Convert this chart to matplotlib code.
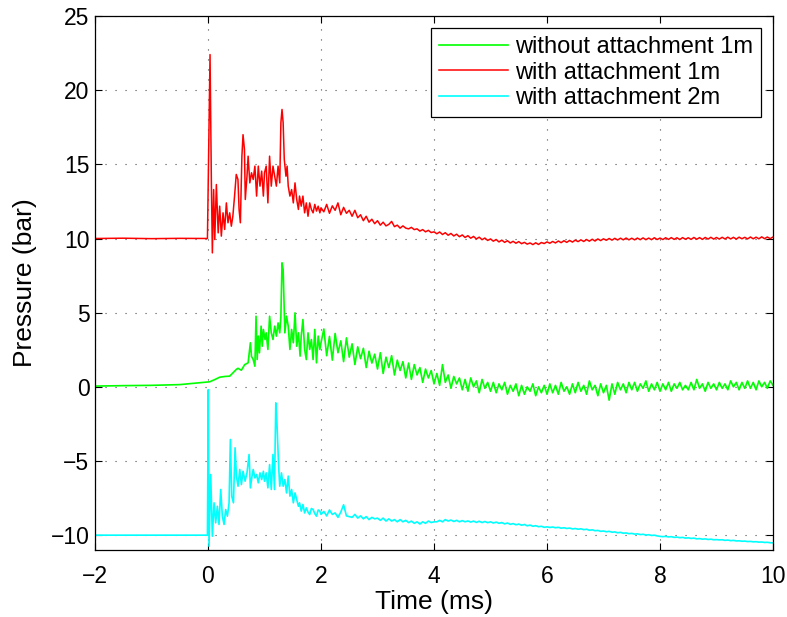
import numpy as np
import matplotlib.pyplot as plt

plt.rcParams['font.family'] = ['Liberation Sans', 'DejaVu Sans']

# samples before the trigger (same times for all three gauges)
t_pre = [-2.0, -1.5, -1.0, -0.5, -0.01]
green_pre = [0.05, 0.08, 0.10, 0.15, 0.32]
red_pre = [10.0, 10.02, 9.99, 10.01, 10.0]
cyan_pre = [-10.0, -10.0, -10.0, -10.0, -10.0]

green_head_t = [0.03, 0.12, 0.207, 0.30, 0.384, 0.44, 0.50, 0.53, 0.59, 0.65,
                0.71, 0.75, 0.77, 0.80, 0.83, 0.85, 0.87, 0.89, 0.91, 0.94,
                0.96, 0.98, 1.01, 1.03, 1.06, 1.09, 1.12, 1.15, 1.18, 1.21,
                1.24, 1.27, 1.29, 1.31, 1.33, 1.35, 1.36, 1.39, 1.42, 1.45,
                1.48, 1.51, 1.54, 1.57, 1.60, 1.63, 1.65, 1.68, 1.71, 1.74,
                1.77, 1.80, 1.83, 1.86, 1.89, 1.92, 1.95, 1.98, 2.00]
green_head = [0.34, 0.49, 0.65, 0.70, 0.72, 0.94, 1.17, 1.25, 1.12, 1.50,
              1.62, 2.97, 2.05, 1.84, 1.39, 4.76, 1.84, 3.42, 2.29, 4.09,
              2.74, 3.87, 3.19, 3.64, 2.52, 4.76, 3.64, 3.19, 4.09, 3.42,
              4.31, 3.64, 4.76, 8.36, 7.90, 5.21, 3.64, 4.76, 4.09, 2.52,
              3.87, 2.97, 4.99, 2.74, 3.64, 2.07, 3.42, 4.54, 2.52, 1.84,
              3.64, 2.52, 3.19, 1.84, 3.87, 1.62, 3.42, 2.52, 2.97]

red_head_t = [0.012, 0.036, 0.06, 0.077, 0.10, 0.12, 0.148, 0.18, 0.207, 0.236,
              0.266, 0.295, 0.325, 0.354, 0.384, 0.413, 0.44, 0.47, 0.50, 0.53,
              0.55, 0.573, 0.60, 0.62, 0.645, 0.66, 0.69, 0.71, 0.74, 0.77,
              0.80, 0.83, 0.86, 0.89, 0.92, 0.95, 0.98, 1.00, 1.03, 1.06,
              1.09, 1.12, 1.15, 1.18, 1.21, 1.24, 1.27, 1.29, 1.31, 1.33,
              1.35, 1.38, 1.40, 1.42, 1.45, 1.48, 1.51, 1.54, 1.57, 1.60,
              1.62, 1.65, 1.68, 1.71, 1.74, 1.77, 1.80, 1.83, 1.86, 1.89,
              1.92, 1.95, 1.98, 2.00]
red_head = [16.0, 22.4, 13.75, 9.03, 13.3, 9.93, 13.64, 10.38, 12.18, 10.16,
            11.73, 10.61, 12.4, 11.06, 11.73, 10.83, 11.51, 12.86, 14.32, 13.98,
            11.96, 11.06, 15.55, 17.0, 16.0, 12.63, 14.2, 15.55, 13.75, 14.43,
            13.98, 14.88, 12.86, 14.88, 13.53, 14.54, 12.86, 14.43, 14.88, 12.4,
            15.55, 13.53, 14.88, 14.2, 13.53, 14.88, 13.75, 17.8, 18.7, 17.8,
            15.33, 14.2, 14.88, 13.53, 12.86, 13.3, 12.4, 13.75, 12.63, 11.96,
            12.86, 12.18, 12.86, 11.73, 12.4, 11.5, 12.4, 11.96, 11.73, 12.3,
            11.85, 12.18, 11.73, 12.07]

cyan_head_t = [0.005, 0.018, 0.048, 0.077, 0.107, 0.136, 0.166, 0.195, 0.225, 0.254,
               0.284, 0.313, 0.343, 0.373, 0.396, 0.42, 0.45, 0.479, 0.503, 0.532,
               0.562, 0.591, 0.62, 0.656, 0.69, 0.727, 0.75, 0.78, 0.80, 0.83,
               0.86, 0.89, 0.92, 0.95, 0.98, 1.00, 1.03, 1.06, 1.09, 1.12,
               1.15, 1.176, 1.20, 1.22, 1.25, 1.27, 1.30, 1.33, 1.36, 1.39,
               1.42, 1.45, 1.48, 1.51, 1.54, 1.57, 1.60, 1.62, 1.65, 1.68,
               1.71, 1.74, 1.77, 1.80, 1.83, 1.86, 1.89, 1.92, 1.95, 1.98,
               2.00]
cyan_head = [-0.2, -10.74, -5.91, -10.07, -7.82, -9.17, -8.05, -9.28, -6.92, -8.72,
             -9.28, -8.27, -8.72, -7.82, -3.55, -7.37, -7.82, -4.11, -6.02, -6.70,
             -5.57, -6.59, -5.69, -6.36, -5.8, -4.56, -6.81, -6.0, -5.57, -6.14,
             -5.91, -6.47, -5.80, -6.25, -5.69, -6.36, -5.80, -6.81, -5.24, -6.92,
             -4.56, -6.92, -1.08, -2.43, -5.35, -6.70, -5.80, -6.70, -6.25, -7.15,
             -6.02, -7.37, -6.92, -7.82, -7.15, -7.60, -8.05, -7.82, -8.38, -7.93,
             -8.50, -8.16, -8.45, -8.61, -8.20, -8.27, -8.55, -8.72, -8.30, -8.38,
             -8.60]

# 2 to 10 ms, one value every 0.05 ms
t_tail = np.round(np.arange(2.05, 10.001, 0.05), 2)
green_tail = [3.9, 2.1, 3.4, 1.8, 3.6, 2.3, 3.1, 1.7, 3.3, 2.0,
              2.9, 1.5, 2.7, 1.9, 2.6, 1.3, 2.4, 1.6, 2.2, 1.2,
              2.3, 0.9, 2.0, 1.3, 2.1, 0.8, 1.8, 1.1, 1.7, 0.6,
              1.6, 0.5, 1.5, 0.8, 1.3, 0.3, 1.2, 0.6, 1.1, 0.2,
              0.9, 0.1, 1.5, 0.3, 0.8, -0.1, 0.7, 0.2, 0.6, -0.2,
              0.5, -0.3, 0.6, 0.0, 0.4, -0.4, 0.5, -0.1, 0.3, -0.3,
              0.3, -0.4, 0.2, -0.2, 0.3, -0.5, 0.1, -0.3, 0.2, -0.6,
              0.1, -0.5, 0.0, -0.3, 0.2, -0.6, 0.0, -0.4, 0.1, -0.5,
              0.2, -0.4, 0.1, -0.5, 0.3, -0.3, 0.0, -0.5, 0.2, -0.4,
              0.3, -0.3, 0.1, -0.5, 0.4, -0.2, 0.1, -0.6, 0.2, -0.4,
              0.1, -0.9, 0.2, -0.5, 0.3, -0.2, 0.2, -0.4, 0.3, -0.2,
              0.3, -0.3, 0.2, -0.1, 0.4, -0.3, 0.2, -0.2, 0.3, -0.3,
              0.2, -0.2, 0.3, -0.3, 0.2, -0.1, 0.3, -0.2, 0.1, -0.2,
              0.3, -0.2, 0.5, -0.1, 0.2, -0.3, 0.3, -0.1, 0.2, -0.2,
              0.3, -0.1, 0.2, -0.2, 0.4, 0.0, 0.3, -0.2, 0.3, -0.1,
              0.4, -0.1, 0.3, -0.2, 0.4, 0.0, 0.3, -0.1, 0.4, 0.1]
red_tail = [11.8, 12.3, 11.7, 12.2, 11.9, 12.4, 11.6, 12.1, 11.7, 11.9,
            11.5, 11.9, 11.4, 11.6, 11.2, 11.5, 11.1, 11.3, 11.0, 11.2,
            10.9, 11.1, 10.85, 10.95, 11.15, 10.8, 10.9, 10.7, 10.85, 10.7,
            10.65, 10.75, 10.6, 10.65, 10.5, 10.6, 10.45, 10.55, 10.4, 10.45,
            10.32, 10.44, 10.27, 10.39, 10.22, 10.34, 10.17, 10.29, 10.12, 10.24,
            10.07, 10.19, 10.02, 10.14, 9.97, 10.09, 9.92, 10.03, 9.87, 9.97,
            9.82, 9.93, 9.77, 9.89, 9.74, 9.85, 9.70, 9.81, 9.68, 9.79,
            9.65, 9.74, 9.62, 9.70, 9.59, 9.71, 9.60, 9.73, 9.66, 9.77,
            9.68, 9.80, 9.70, 9.83, 9.72, 9.85, 9.74, 9.87, 9.76, 9.89,
            9.79, 9.91, 9.80, 9.93, 9.82, 9.95, 9.83, 9.97, 9.86, 9.98,
            9.88, 10.0, 9.89, 10.01, 9.90, 10.02, 9.91, 10.03, 9.91, 10.02,
            9.91, 10.03, 9.92, 10.04, 9.92, 10.03, 9.92, 10.05, 9.93, 10.03,
            9.93, 10.05, 9.94, 10.06, 9.94, 10.05, 9.93, 10.06, 9.95, 10.05,
            9.94, 10.07, 9.95, 10.06, 9.94, 10.07, 9.96, 10.08, 9.96, 10.07,
            9.96, 10.08, 9.97, 10.09, 9.97, 10.08, 9.96, 10.09, 9.98, 10.08,
            9.97, 10.1, 9.98, 10.09, 9.98, 10.11, 9.99, 10.1, 9.99, 10.1]
cyan_tail = [-8.4, -8.7, -8.3, -8.6, -8.5, -8.8, -8.45, -7.95, -8.7, -8.75,
             -8.8, -8.6, -8.85, -8.7, -8.9, -8.75, -8.95, -8.8, -8.9, -8.85,
             -9.0, -8.85, -9.05, -8.9, -9.05, -8.95, -9.1, -8.95, -9.1, -9.0,
             -9.15, -9.05, -9.2, -9.1, -9.25, -9.1, -9.2, -9.05, -9.15, -9.1,
             -9.1, -9.0, -9.1, -8.95, -9.05, -8.98, -9.08, -9.0, -9.1, -9.02,
             -9.1, -9.04, -9.12, -9.05, -9.14, -9.06, -9.15, -9.08, -9.16, -9.1,
             -9.18, -9.12, -9.2, -9.15, -9.24, -9.18, -9.27, -9.22, -9.3, -9.25,
             -9.33, -9.28, -9.37, -9.32, -9.4, -9.36, -9.43, -9.4, -9.47, -9.44,
             -9.48, -9.45, -9.5, -9.47, -9.53, -9.5, -9.55, -9.52, -9.58, -9.55,
             -9.6, -9.57, -9.63, -9.6, -9.67, -9.64, -9.7, -9.68, -9.74, -9.72,
             -9.77, -9.74, -9.8, -9.78, -9.84, -9.81, -9.87, -9.85, -9.9, -9.88,
             -9.93, -9.91, -9.96, -9.94, -9.99, -9.97, -10.02, -10.0, -10.05, -10.08,
             -10.1, -10.08, -10.12, -10.1, -10.15, -10.13, -10.17, -10.15, -10.2, -10.18,
             -10.22, -10.2, -10.25, -10.23, -10.27, -10.25, -10.29, -10.27, -10.31, -10.3,
             -10.32, -10.31, -10.35, -10.33, -10.37, -10.35, -10.39, -10.38, -10.41, -10.4,
             -10.43, -10.42, -10.45, -10.44, -10.47, -10.46, -10.49, -10.48, -10.51, -10.52]

labels = ['without attachment 1m', 'with attachment 1m', 'with attachment 2m']

# stitch the pieces together
green_t = np.concatenate([t_pre, green_head_t, t_tail])
green_p = np.concatenate([green_pre, green_head, green_tail])
red_t = np.concatenate([t_pre, red_head_t, t_tail])
red_p = np.concatenate([red_pre, red_head, red_tail])
cyan_t = np.concatenate([t_pre, cyan_head_t, t_tail])
cyan_p = np.concatenate([cyan_pre, cyan_head, cyan_tail])

fig = plt.figure(figsize=(7.87, 6.17), dpi=100)
ax = fig.add_axes([95/787, 1-550/617, 678/787, 534/617])

ax.plot(green_t, green_p, color='#00ff00', lw=1.2, label=labels[0])
ax.plot(red_t, red_p, color='#ff0000', lw=1.1, label=labels[1])
ax.plot(cyan_t, cyan_p, color='#00ffff', lw=1.2, label=labels[2])

ax.set_xlim(-2, 10)
ax.set_ylim(-11, 25)
ax.set_xticks(np.arange(-2, 11, 2))
ax.set_yticks(np.arange(-10, 26, 5))
ax.grid(True, color='0.3', linestyle=(0, (1, 8)), lw=0.8)
ax.tick_params(direction='in', top=True, right=True, length=5, width=0.8, labelsize=16.5)
ax.tick_params(axis='x', pad=11)
ax.tick_params(axis='y', pad=4)
for s in ax.spines.values():
    s.set_linewidth(0.9)

ax.set_xlabel('Time (ms)', fontsize=19, labelpad=1)
ax.set_ylabel('Pressure (bar)', fontsize=19, labelpad=10)

leg = ax.legend(loc='upper right', fontsize=17, fancybox=False, edgecolor='black',
                framealpha=1, handlelength=2.9, handletextpad=0.3, labelspacing=0.15,
                borderpad=0.35, borderaxespad=0.5)
leg.get_frame().set_linewidth(0.9)

plt.savefig('out.png', dpi=100)
